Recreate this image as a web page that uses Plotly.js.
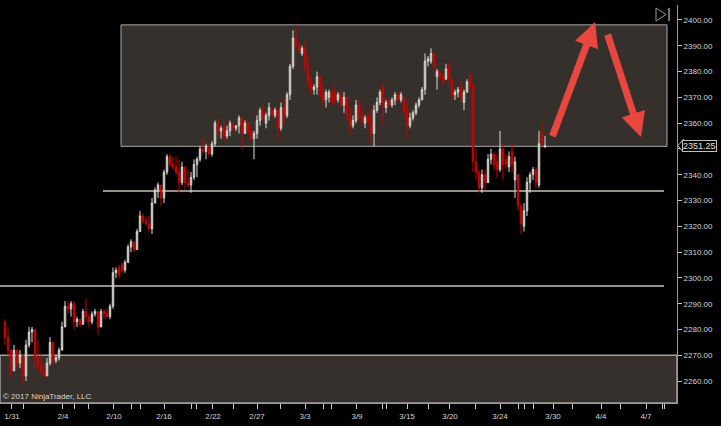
<!DOCTYPE html>
<html>
<head>
<meta charset="utf-8">
<script src="https://cdn.plot.ly/plotly-3.0.1.min.js"></script>
<style>
html,body{margin:0;padding:0;background:#000;}
#chart{width:721px;height:426px;}
</style>
</head>
<body>
<div id="chart"></div>
<script>
// OHLC values (one bar per slot)
const opens = [2283,2277,2272,2264,2272,2267,2270,2262,2274,2279,2280,2269,2266,2264,2262,2267,2275,2268,2269,2272,
2281,2289,2288,2290,2283,2284,2282,2287,2285,2283,2286,2287,2281,2287,2286,2285,2289,2302,2304,2305,
2303,2306,2312,2314,2311,2318,2324,2322,2321,2319,2329,2334,2336,2331,2341,2347,2344,2343,2341,2337,
2343,2337,2336,2339,2344,2346,2350,2349,2351,2348,2352,2360,2357,2358,2355,2357,2360,2358,2359,2362,
2356,2360,2357,2354,2356,2361,2365,2360,2363,2365,2363,2365,2358,2366,2363,2371,2382,2393,2390,2387,
2389,2382,2376,2373,2374,2378,2372,2369,2370,2372,2371,2369,2371,2367,2370,2363,2359,2361,2367,2363,
2360,2363,2361,2356,2365,2368,2374,2366,2369,2367,2369,2371,2369,2370,2365,2359,2362,2364,2367,2369,
2373,2384,2384,2387,2378,2380,2378,2377,2382,2377,2371,2372,2374,2368,2372,2378,2375,2345,2341,2335,
2340,2337,2346,2348,2345,2342,2350,2346,2343,2349,2338,2340,2328,2320,2326,2337,2340,2342,2336,2356,
2350.75];
const highs = [2284,2281,2271,2274,2271,2272,2270,2276,2281,2281,2279,2276,2270,2267,2269,2277,2274,2270,2273,2283,
2291,2291,2291,2291,2285,2284,2288,2292,2286,2287,2288,2287,2288,2288,2288,2290,2304,2304,2305,2306,
2307,2313,2315,2314,2319,2326,2325,2324,2324,2331,2335,2337,2336,2342,2348,2348,2347,2347,2346,2345,
2343,2342,2341,2346,2347,2351,2354,2352,2351,2353,2361,2362,2359,2361,2359,2361,2360,2359,2363,2362,
2361,2360,2359,2357,2363,2366,2367,2364,2368,2366,2366,2364,2368,2369,2372,2383,2396,2398,2391,2390,
2392,2386,2378,2375,2380,2378,2375,2373,2373,2373,2375,2372,2372,2372,2369,2366,2363,2369,2369,2367,
2363,2364,2366,2367,2370,2373,2375,2369,2369,2370,2372,2372,2372,2370,2368,2364,2365,2368,2370,2374,
2387,2386,2389,2386,2381,2380,2379,2383,2384,2376,2373,2374,2376,2373,2377,2379,2374,2350,2342,2342,
2342,2348,2350,2349,2348,2357,2352,2348,2349,2352,2347,2337,2329,2329,2339,2341,2343,2343,2357,2360,
2355];
const lows = [2274,2270,2261,2264,2265,2265,2259,2260,2273,2275,2265,2264,2263,2261,2262,2266,2266,2267,2268,2273,
2281,2286,2285,2280,2281,2281,2282,2283,2281,2282,2285,2278,2282,2284,2285,2284,2288,2300,2300,2302,
2302,2306,2310,2310,2311,2318,2321,2320,2318,2317,2329,2331,2328,2329,2340,2343,2342,2340,2333,2336,
2334,2335,2333,2338,2339,2345,2348,2346,2347,2347,2351,2355,2354,2353,2354,2355,2357,2357,2356,2350,
2356,2356,2353,2346,2354,2359,2361,2358,2361,2362,2362,2354,2357,2360,2362,2369,2381,2389,2387,2386,
2380,2374,2371,2371,2371,2370,2367,2366,2368,2367,2368,2368,2366,2364,2361,2356,2358,2360,2361,2359,
2358,2360,2352,2351,2364,2367,2360,2364,2366,2366,2367,2368,2368,2363,2354,2358,2361,2363,2366,2369,
2371,2382,2383,2380,2373,2377,2375,2377,2375,2369,2369,2370,2368,2365,2372,2373,2341,2338,2333,2333,
2334,2338,2344,2342,2339,2341,2338,2342,2341,2341,2331,2326,2317,2318,2324,2333,2338,2335,2335,2351,
2350.5];
const closes = [2277,2272,2264,2272,2267,2270,2262,2274,2279,2280,2269,2266,2264,2262,2267,2275,2268,2269,2272,2281,
2289,2288,2290,2283,2284,2282,2287,2285,2283,2286,2287,2281,2287,2286,2285,2289,2302,2303,2301,2303,
2306,2312,2314,2311,2318,2324,2322,2321,2319,2329,2334,2336,2331,2341,2347,2344,2343,2341,2337,2343,
2337,2336,2339,2344,2346,2350,2349,2351,2348,2352,2360,2357,2358,2355,2357,2360,2358,2359,2362,2356,
2360,2357,2354,2356,2361,2365,2362,2363,2366,2364,2365,2358,2366,2363,2371,2382,2393,2390,2388,2389,
2382,2376,2373,2374,2378,2372,2369,2372,2372,2368,2369,2371,2367,2370,2363,2359,2361,2367,2363,2361,
2362,2361,2356,2365,2368,2372,2367,2368,2367,2369,2371,2369,2371,2365,2359,2362,2364,2367,2369,2373,
2384,2385,2387,2382,2380,2378,2376,2381,2377,2371,2372,2373,2370,2372,2376,2375,2345,2341,2335,2340,
2337,2346,2348,2344,2342,2350,2344,2344,2347,2344,2345,2328,2321,2326,2337,2340,2342,2337,2352,2352,
2351.25];

// date labels and the bar slots they sit on
const dateLabels = ['1/31','2/4','2/10','2/16','2/22','2/27','3/3','3/9','3/15','3/20','3/24','3/30','4/4','4/7'];
const dateBars = [2.33,19.33,36.33,53,69.33,84,100,117.33,134,148.33,165,182.67,198.67,213.67];
const sessionBars = [6,23,27.7,42.3,45,62.3,63.7,76.3,91.7,106.3,108.7,125.7,127,141,156.7,171.3,173,176,189,205.3,219,219.7];

// levels drawn on the chart
const boxTop = 2398.1, boxBottom = 2351.0, boxStart = 38.67, boxEnd = 220.67;
const lowZoneTop = 2270;
const level1 = 2333.7, level1Start = 32.67, levelEnd = 219.67;
const level2 = 2296.9;
const lastPrice = 2351.25;
const arrowUp = {from:[182.3, 2354.3], to:[196.7, 2399.2]};
const arrowDown = {from:[200.7, 2394.9], to:[212.0, 2354.6]};

const bars = closes.map((_, i) => i);
const yMin = 2251.5, yMax = 2405.8;

const trace = {
  type: 'candlestick',
  x: bars, open: opens, high: highs, low: lows, close: closes,
  increasing: {line: {color: '#dcdcd4', width: 1}, fillcolor: '#8e8e8a'},
  decreasing: {line: {color: '#d10000', width: 1}, fillcolor: '#c00000'},
  whiskerwidth: 0,
  hoverinfo: 'skip',
  showlegend: false
};

const tickvals = dateBars.concat(sessionBars);
const ticktext = dateLabels.concat(sessionBars.map(() => ''));

const yticks = [];
for (let v = 2260; v <= 2400; v += 10) yticks.push(v);

const fontFam = 'Liberation Sans, Arial, sans-serif';
const lineCol = '#9a9a9a';

const layout = {
  width: 721, height: 426,
  margin: {l: 0, r: 44, t: 5, b: 23},
  paper_bgcolor: '#000', plot_bgcolor: '#000',
  showlegend: false,
  xaxis: {
    range: [-1.667, 224],
    rangeslider: {visible: false},
    showgrid: false, zeroline: false,
    showline: true, linecolor: lineCol, linewidth: 1,
    ticks: 'outside', ticklen: 5, tickcolor: '#c8c8c8', tickwidth: 1,
    tickmode: 'array', tickvals: tickvals, ticktext: ticktext,
    tickfont: {family: fontFam, size: 8, color: '#d6d6d6'},
    fixedrange: true
  },
  yaxis: {
    side: 'right',
    range: [yMin, yMax],
    showgrid: false, zeroline: false,
    showline: true, linecolor: lineCol, linewidth: 1,
    ticks: 'outside', ticklen: 4, tickcolor: '#c8c8c8', tickwidth: 1,
    tickmode: 'array', tickvals: yticks, tickformat: '.2f',
    tickfont: {family: fontFam, size: 8, color: '#d6d6d6'},
    fixedrange: true
  },
  shapes: [
    {type: 'rect', layer: 'below', xref: 'x', yref: 'y', x0: boxStart, x1: boxEnd, y0: boxBottom, y1: boxTop,
     fillcolor: '#35302c', line: {color: '#a8a8a8', width: 1}},
    {type: 'rect', layer: 'below', xref: 'x', yref: 'y', x0: -1.667, x1: 224, y0: yMin, y1: lowZoneTop,
     fillcolor: '#35302c', line: {color: '#a0a0a0', width: 1.5}},
    {type: 'line', layer: 'below', xref: 'x', yref: 'y', x0: level1Start, x1: levelEnd, y0: level1, y1: level1,
     line: {color: '#c9c2b4', width: 1.5}},
    {type: 'line', layer: 'below', xref: 'x', yref: 'y', x0: -1.667, x1: levelEnd, y0: level2, y1: level2,
     line: {color: '#c9c2b4', width: 1.5}},
    // last price pointer
    {type: 'path', xref: 'paper', yref: 'paper',
     path: 'M 1.0015 ' + ((lastPrice - yMin) / (yMax - yMin)) + ' L 1.0095 ' + ((lastPrice - yMin) / (yMax - yMin) + 0.016) + ' L 1.0095 ' + ((lastPrice - yMin) / (yMax - yMin) - 0.016) + ' Z',
     fillcolor: '#000', line: {color: '#c0c0c0', width: 1}},
    // go-to-end icon
    {type: 'path', xref: 'paper', yref: 'paper', path: 'M 0.969 0.9925 L 0.969 0.9598 L 0.9837 0.9761 Z',
     line: {color: '#9a9a9a', width: 1}, fillcolor: 'rgba(0,0,0,0)'},
    {type: 'line', xref: 'paper', yref: 'paper', x0: 0.9882, x1: 0.9882, y0: 0.9598, y1: 0.9925,
     line: {color: '#9a9a9a', width: 1.5}}
  ],
  annotations: [
    {xref: 'paper', yref: 'y', x: 1, y: lastPrice, xanchor: 'left', yanchor: 'middle', xshift: 5,
     text: lastPrice.toFixed(2), showarrow: false, bgcolor: '#000', bordercolor: '#c0c0c0', borderwidth: 1, borderpad: 0,
     font: {family: fontFam, size: 9, color: '#e0e0e0'}},
    {xref: 'paper', yref: 'paper', x: 0, y: 0, xanchor: 'left', yanchor: 'bottom', xshift: 1, yshift: 0,
     text: '© 2017 NinjaTrader, LLC', showarrow: false, font: {family: fontFam, size: 8, color: '#d8d8d8'}},
    {xref: 'x', yref: 'y', axref: 'x', ayref: 'y', x: arrowUp.to[0], y: arrowUp.to[1], ax: arrowUp.from[0], ay: arrowUp.from[1],
     text: '', showarrow: true, arrowhead: 2, arrowsize: 0.7, arrowwidth: 7, arrowcolor: '#e8473f', standoff: 0},
    {xref: 'x', yref: 'y', axref: 'x', ayref: 'y', x: arrowDown.to[0], y: arrowDown.to[1], ax: arrowDown.from[0], ay: arrowDown.from[1],
     text: '', showarrow: true, arrowhead: 2, arrowsize: 0.7, arrowwidth: 7, arrowcolor: '#e8473f', standoff: 0}
  ]
};

Plotly.newPlot('chart', [trace], layout, {staticPlot: true, displayModeBar: false});
</script>
</body>
</html>
